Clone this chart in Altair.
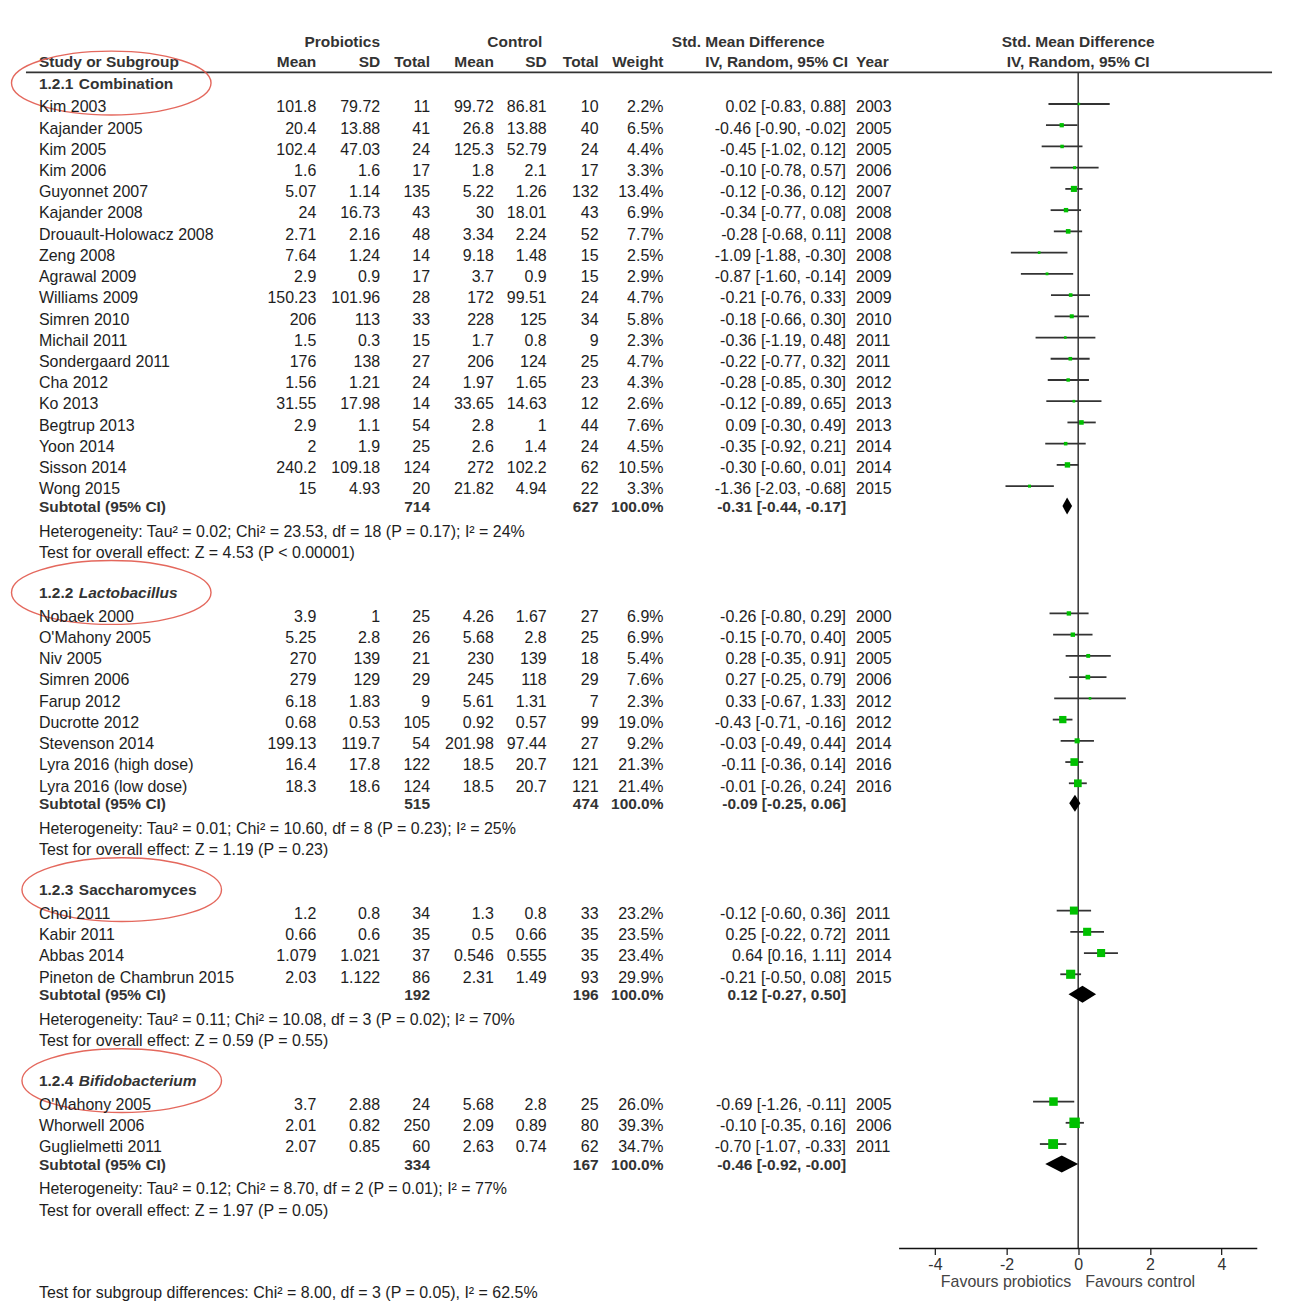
import altair as alt
import pandas as pd

# ---------------------------------------------------------------- data
GROUP_PREFIX = ["1.2.1", "1.2.2", "1.2.3", "1.2.4"]
GROUP_NAME = ["Combination", "Lactobacillus", "Saccharomyces", "Bifidobacterium"]
GROUP_ITALIC = [False, True, False, True]

STUDY = ["Kim 2003", "Kajander 2005", "Kim 2005", "Kim 2006", "Guyonnet 2007", "Kajander 2008",
         "Drouault-Holowacz 2008", "Zeng 2008", "Agrawal 2009", "Williams 2009", "Simren 2010",
         "Michail 2011", "Sondergaard 2011", "Cha 2012", "Ko 2013", "Begtrup 2013", "Yoon 2014",
         "Sisson 2014", "Wong 2015",
         "Nobaek 2000", "O'Mahony 2005", "Niv 2005", "Simren 2006", "Farup 2012", "Ducrotte 2012",
         "Stevenson 2014", "Lyra 2016 (high dose)", "Lyra 2016 (low dose)",
         "Choi 2011", "Kabir 2011", "Abbas 2014", "Pineton de Chambrun 2015",
         "O'Mahony 2005", "Whorwell 2006", "Guglielmetti 2011"]
GROUP = [0] * 19 + [1] * 9 + [2] * 4 + [3] * 3
P_MEAN = [101.8, 20.4, 102.4, 1.6, 5.07, 24, 2.71, 7.64, 2.9, 150.23, 206, 1.5, 176, 1.56, 31.55, 2.9, 2, 240.2, 15,
          3.9, 5.25, 270, 279, 6.18, 0.68, 199.13, 16.4, 18.3,
          1.2, 0.66, 1.079, 2.03,
          3.7, 2.01, 2.07]
P_SD = [79.72, 13.88, 47.03, 1.6, 1.14, 16.73, 2.16, 1.24, 0.9, 101.96, 113, 0.3, 138, 1.21, 17.98, 1.1, 1.9, 109.18, 4.93,
        1, 2.8, 139, 129, 1.83, 0.53, 119.7, 17.8, 18.6,
        0.8, 0.6, 1.021, 1.122,
        2.88, 0.82, 0.85]
P_N = [11, 41, 24, 17, 135, 43, 48, 14, 17, 28, 33, 15, 27, 24, 14, 54, 25, 124, 20,
       25, 26, 21, 29, 9, 105, 54, 122, 124,
       34, 35, 37, 86,
       24, 250, 60]
C_MEAN = [99.72, 26.8, 125.3, 1.8, 5.22, 30, 3.34, 9.18, 3.7, 172, 228, 1.7, 206, 1.97, 33.65, 2.8, 2.6, 272, 21.82,
          4.26, 5.68, 230, 245, 5.61, 0.92, 201.98, 18.5, 18.5,
          1.3, 0.5, 0.546, 2.31,
          5.68, 2.09, 2.63]
C_SD = [86.81, 13.88, 52.79, 2.1, 1.26, 18.01, 2.24, 1.48, 0.9, 99.51, 125, 0.8, 124, 1.65, 14.63, 1, 1.4, 102.2, 4.94,
        1.67, 2.8, 139, 118, 1.31, 0.57, 97.44, 20.7, 20.7,
        0.8, 0.66, 0.555, 1.49,
        2.8, 0.89, 0.74]
C_N = [10, 40, 24, 17, 132, 43, 52, 15, 15, 24, 34, 9, 25, 23, 12, 44, 24, 62, 22,
       27, 25, 18, 29, 7, 99, 27, 121, 121,
       33, 35, 35, 93,
       25, 80, 62]
WEIGHT = [2.2, 6.5, 4.4, 3.3, 13.4, 6.9, 7.7, 2.5, 2.9, 4.7, 5.8, 2.3, 4.7, 4.3, 2.6, 7.6, 4.5, 10.5, 3.3,
          6.9, 6.9, 5.4, 7.6, 2.3, 19.0, 9.2, 21.3, 21.4,
          23.2, 23.5, 23.4, 29.9,
          26.0, 39.3, 34.7]
SMD = [0.02, -0.46, -0.45, -0.10, -0.12, -0.34, -0.28, -1.09, -0.87, -0.21, -0.18, -0.36, -0.22, -0.28, -0.12, 0.09, -0.35, -0.30, -1.36,
       -0.26, -0.15, 0.28, 0.27, 0.33, -0.43, -0.03, -0.11, -0.01,
       -0.12, 0.25, 0.64, -0.21,
       -0.69, -0.10, -0.70]
LO = [-0.83, -0.90, -1.02, -0.78, -0.36, -0.77, -0.68, -1.88, -1.60, -0.76, -0.66, -1.19, -0.77, -0.85, -0.89, -0.30, -0.92, -0.60, -2.03,
      -0.80, -0.70, -0.35, -0.25, -0.67, -0.71, -0.49, -0.36, -0.26,
      -0.60, -0.22, 0.16, -0.50,
      -1.26, -0.35, -1.07]
HI = [0.88, -0.02, 0.12, 0.57, 0.12, 0.08, 0.11, -0.30, -0.14, 0.33, 0.30, 0.48, 0.32, 0.30, 0.65, 0.49, 0.21, 0.01, -0.68,
      0.29, 0.40, 0.91, 0.79, 1.33, -0.16, 0.44, 0.14, 0.24,
      0.36, 0.72, 1.11, 0.08,
      -0.11, 0.16, -0.33]
YEAR = [2003, 2005, 2005, 2006, 2007, 2008, 2008, 2008, 2009, 2009, 2010, 2011, 2011, 2012, 2013, 2013, 2014, 2014, 2015,
        2000, 2005, 2005, 2006, 2012, 2012, 2014, 2016, 2016,
        2011, 2011, 2014, 2015,
        2005, 2006, 2011]

SUB_P_N = [714, 515, 192, 334]
SUB_C_N = [627, 474, 196, 167]
SUB_WEIGHT = [100.0, 100.0, 100.0, 100.0]
SUB_EST = [-0.31, -0.09, 0.12, -0.46]
SUB_LO = [-0.44, -0.25, -0.27, -0.92]
SUB_HI = [-0.17, 0.06, 0.50, -0.0]

HETERO = [
    "Heterogeneity: Tau\u00b2 = 0.02; Chi\u00b2 = 23.53, df = 18 (P = 0.17); I\u00b2 = 24%",
    "Heterogeneity: Tau\u00b2 = 0.01; Chi\u00b2 = 10.60, df = 8 (P = 0.23); I\u00b2 = 25%",
    "Heterogeneity: Tau\u00b2 = 0.11; Chi\u00b2 = 10.08, df = 3 (P = 0.02); I\u00b2 = 70%",
    "Heterogeneity: Tau\u00b2 = 0.12; Chi\u00b2 = 8.70, df = 2 (P = 0.01); I\u00b2 = 77%",
]
OVERALL = [
    "Test for overall effect: Z = 4.53 (P < 0.00001)",
    "Test for overall effect: Z = 1.19 (P = 0.23)",
    "Test for overall effect: Z = 0.59 (P = 0.55)",
    "Test for overall effect: Z = 1.97 (P = 0.05)",
]
SUBGROUP_TEST = "Test for subgroup differences: Chi\u00b2 = 8.00, df = 3 (P = 0.05), I\u00b2 = 62.5%"
AXIS_TICKS = [-4, -2, 0, 2, 4]
AXIS_RANGE = [-5, 5]
LEFT_LABEL = "Favours probiotics"
RIGHT_LABEL = "Favours control"

for arr in (GROUP, P_MEAN, P_SD, P_N, C_MEAN, C_SD, C_N, WEIGHT, SMD, LO, HI, YEAR):
    assert len(arr) == len(STUDY)

# ---------------------------------------------------------------- layout
FONT = "Liberation Sans, Arial, Helvetica, sans-serif"
W, H = 1282, 1242           # plot area (page minus 8px margin)
PX_PER_UNIT = 35.9
ZERO_PX = 1069.7
X_MIN = -ZERO_PX / PX_PER_UNIT
X_MAX = (W - ZERO_PX) / PX_PER_UNIT

PITCH = 21.28
FIRST_ROW = 94.7
HEAD1_Y, HEAD2_Y, HEAD_LINE_Y = 37.5, 57.5, 63
TXT_COLOR = "#1e1e1e"
BOLD_COLOR = "#333333"
BOLD_SIZE = 15.5
GREEN = "#00c000"
ELLIPSE_CX = [100.5, 100.5, 111, 111]

# compute rows
study_rows, sub_rows, head_rows, info_rows, dia_rows = [], [], [], [], []
y = FIRST_ROW
for g in range(4):
    idx = [i for i in range(len(STUDY)) if GROUP[i] == g]
    head_rows.append(dict(g=g, yb=y - 15.5, prefix=GROUP_PREFIX[g], name=GROUP_NAME[g],
                          italic=GROUP_ITALIC[g], ye=y - 21.0))
    for k, i in enumerate(idx):
        ym = y + k * PITCH
        study_rows.append(dict(
            y=ym, yb=ym + 8.3, name=STUDY[i], pm=str(P_MEAN[i]), psd=str(P_SD[i]), pn=str(P_N[i]),
            cm=str(C_MEAN[i]), csd=str(C_SD[i]), cn=str(C_N[i]), wt=f"{WEIGHT[i]:.1f}%",
            ci=f"{SMD[i]:.2f} [{LO[i]:.2f}, {HI[i]:.2f}]", year=str(YEAR[i]),
            smd=SMD[i], lo=LO[i], hi=HI[i], w=WEIGHT[i]))
    last = y + (len(idx) - 1) * PITCH
    yd = last + 20
    sub_rows.append(dict(yb=yd + 6.0, name="Subtotal (95% CI)", pn=str(SUB_P_N[g]), cn=str(SUB_C_N[g]),
                         wt=f"{SUB_WEIGHT[g]:.1f}%",
                         ci=f"{SUB_EST[g]:.2f} [{SUB_LO[g]:.2f}, {SUB_HI[g]:.2f}]"))
    for xx, a, b in ((SUB_LO[g], yd, yd), (SUB_EST[g], yd - 8.5, yd + 8.5), (SUB_HI[g], yd, yd)):
        dia_rows.append(dict(g=g, x=xx, ya=a, yb=b))
    het = yd + 30.5
    test = het + 21.3
    info_rows.append(dict(yb=het, t=HETERO[g]))
    info_rows.append(dict(yb=test, t=OVERALL[g]))
    y = test + 55.8

df_st = pd.DataFrame(study_rows)
df_sub = pd.DataFrame(sub_rows)
df_head = pd.DataFrame(head_rows)
df_info = pd.DataFrame(info_rows)
df_dia = pd.DataFrame(dia_rows)

XSCALE = alt.Scale(domain=[X_MIN, X_MAX], nice=False, zero=False)
YSCALE = alt.Scale(domain=[0, H], reverse=True, nice=False, zero=False)
XAXIS = alt.Axis(values=AXIS_TICKS, domain=False, grid=False, ticks=True, tickSize=6,
                 tickColor="#222222", tickWidth=1.3, labelFont=FONT, labelFontSize=16,
                 labelColor="#333333", labelPadding=2, labelExpr="'' + datum.value",
                 labelFlush=False, title=None)


def Xf(f):
    return alt.X(f, type="quantitative", scale=XSCALE, axis=XAXIS, title=None)


def Yf(f, stack=False):
    if stack:
        return alt.Y(f, type="quantitative", scale=YSCALE, axis=None, title=None, stack=None)
    return alt.Y(f, type="quantitative", scale=YSCALE, axis=None, title=None)


def txt(df, field, x, align, yfield="yb", bold=False, italic=False, size=16, color=TXT_COLOR):
    return alt.Chart(df).mark_text(
        align=align, baseline="alphabetic", font=FONT, fontSize=size,
        fontWeight="bold" if bold else "normal", fontStyle="italic" if italic else "normal",
        color=color,
    ).encode(x=alt.value(x), y=Yf(yfield), text=alt.Text(f"{field}:N"))


layers = []

# header texts
df_h = pd.DataFrame([dict(y1=HEAD1_Y, y2=HEAD2_Y, x0=0)])
df_h["Probiotics"] = "Probiotics"
df_h["Control"] = "Control"
df_h["SMD"] = "Std. Mean Difference"
df_h["IV"] = "IV, Random, 95% CI"
df_h["Study"] = "Study or Subgroup"
df_h["Mean"] = "Mean"
df_h["SD"] = "SD"
df_h["Total"] = "Total"
df_h["Weight"] = "Weight"
df_h["Year"] = "Year"
hb = dict(bold=True, size=BOLD_SIZE, color=BOLD_COLOR)
layers += [
    txt(df_h, "Probiotics", 332, "center", "y1", **hb),
    txt(df_h, "Control", 505, "center", "y1", **hb),
    txt(df_h, "SMD", 739, "center", "y1", **hb),
    txt(df_h, "Study", 28, "left", "y2", **hb),
    txt(df_h, "Mean", 306, "right", "y2", **hb),
    txt(df_h, "SD", 370, "right", "y2", **hb),
    txt(df_h, "Total", 420, "right", "y2", **hb),
    txt(df_h, "Mean", 484, "right", "y2", **hb),
    txt(df_h, "SD", 537, "right", "y2", **hb),
    txt(df_h, "Total", 589, "right", "y2", **hb),
    txt(df_h, "Weight", 654, "right", "y2", **hb),
    txt(df_h, "IV", 839, "right", "y2", **hb),
    txt(df_h, "Year", 847, "left", "y2", **hb),
]
for yf, tf in (("y1", "SMD"), ("y2", "IV")):
    layers.append(alt.Chart(df_h).mark_text(
        align="center", baseline="alphabetic", font=FONT, fontSize=BOLD_SIZE, fontWeight="bold",
        color=BOLD_COLOR).encode(x=Xf("x0"), y=Yf(yf), text=alt.Text(f"{tf}:N")))

# header line
layers.append(alt.Chart(pd.DataFrame(dict(y=[HEAD_LINE_Y]))).mark_rule(
    color="#333333", strokeWidth=1.8).encode(x=alt.value(15), x2=alt.value(1264), y=Yf("y")))

# zero line
layers.append(alt.Chart(pd.DataFrame(dict(x0=[0], ya=[HEAD_LINE_Y], yb=[H]))).mark_rule(
    color="#333333", strokeWidth=1.5).encode(x=Xf("x0"), y=Yf("ya"), y2=alt.Y2("yb")))

# axis line
layers.append(alt.Chart(pd.DataFrame(dict(xa=[AXIS_RANGE[0]], xb=[AXIS_RANGE[1]], y=[H]))).mark_rule(
    color="#111111", strokeWidth=1.5).encode(x=Xf("xa"), x2=alt.X2("xb"), y=Yf("y")))

# headings
layers.append(txt(df_head, "prefix", 28, "left", bold=True, size=BOLD_SIZE, color=BOLD_COLOR))
layers.append(txt(df_head[~df_head["italic"]], "name", 68, "left", bold=True, size=BOLD_SIZE, color=BOLD_COLOR))
layers.append(txt(df_head[df_head["italic"]], "name", 68, "left", bold=True, italic=True, size=BOLD_SIZE,
                  color=BOLD_COLOR))

# red ellipses around the headings
ELLIPSE = "M -1 0 A 1 0.32 0 1 1 1 0 A 1 0.32 0 1 1 -1 0 Z"
for g in range(4):
    layers.append(alt.Chart(df_head[df_head["g"] == g]).mark_point(
        shape=ELLIPSE, size=40000, filled=False, color="#e2584c", strokeWidth=1.4, opacity=0.9
    ).encode(x=alt.value(ELLIPSE_CX[g]), y=Yf("ye")))

# study rows
for field, x, align in (("name", 28, "left"), ("pm", 306, "right"), ("psd", 370, "right"),
                        ("pn", 420, "right"), ("cm", 484, "right"), ("csd", 537, "right"),
                        ("cn", 589, "right"), ("wt", 654, "right"), ("ci", 837, "right"),
                        ("year", 847, "left")):
    layers.append(txt(df_st, field, x, align))

# subtotal rows
for field, x, align in (("name", 28, "left"), ("pn", 420, "right"), ("cn", 589, "right"),
                        ("wt", 654, "right"), ("ci", 837, "right")):
    layers.append(txt(df_sub, field, x, align, bold=True, size=BOLD_SIZE, color=BOLD_COLOR))

# heterogeneity / overall effect lines
layers.append(txt(df_info, "t", 28, "left"))

# bottom texts
df_bot = pd.DataFrame([dict(x0=0, yf=1280.5, ys=1292, l=LEFT_LABEL, r=RIGHT_LABEL, s=SUBGROUP_TEST)])
layers.append(alt.Chart(df_bot).mark_text(align="right", baseline="alphabetic", font=FONT, fontSize=16,
                                          color="#444444", dx=-7).encode(
    x=Xf("x0"), y=Yf("yf"), text="l:N"))
layers.append(alt.Chart(df_bot).mark_text(align="left", baseline="alphabetic", font=FONT, fontSize=16,
                                          color="#444444", dx=7).encode(
    x=Xf("x0"), y=Yf("yf"), text="r:N"))
layers.append(txt(df_bot, "s", 28, "left", yfield="ys"))

# CI lines
layers.append(alt.Chart(df_st).mark_rule(color="#333333", strokeWidth=1.8).encode(
    x=Xf("lo"), x2=alt.X2("hi"), y=Yf("y")))

# weight squares
layers.append(alt.Chart(df_st).mark_square(color=GREEN, opacity=1, strokeWidth=0).encode(
    x=Xf("smd"), y=Yf("y"),
    size=alt.Size("w:Q", scale=alt.Scale(type="linear", domain=[0, 40], range=[0, 112]), legend=None)))

# subtotal diamonds
layers.append(alt.Chart(df_dia).mark_area(orient="vertical", color="#000000", opacity=1).encode(
    x=Xf("x"), y=Yf("ya", stack=True), y2=alt.Y2("yb"), detail="g:N"))

chart = alt.layer(*layers).properties(width=W, height=H, padding=0).configure_view(stroke=None)

chart.save("out.html", embed_options={"renderer": "svg", "actions": False})
